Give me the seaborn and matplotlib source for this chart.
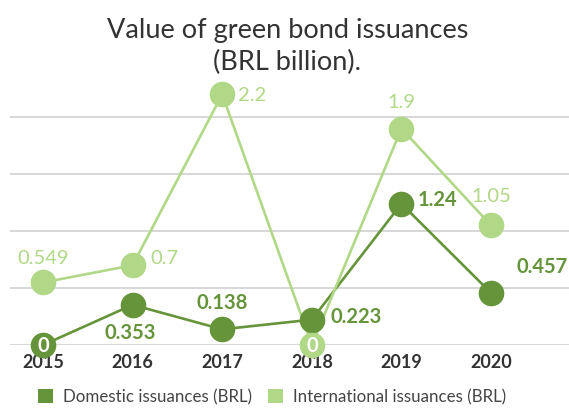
import matplotlib
matplotlib.use("Agg")
import matplotlib.pyplot as plt
import seaborn as sns
import pandas as pd
from matplotlib.patches import Patch

years = [2015, 2016, 2017, 2018, 2019, 2020]
domestic = [0, 0.353, 0.138, 0.223, 1.24, 0.457]
international = [0.549, 0.7, 2.2, 0, 1.9, 1.05]
dom_labels = ["0", "0.353", "0.138", "0.223", "1.24", "0.457"]
int_labels = ["0.549", "0.7", "2.2", "0", "1.9", "1.05"]
series_names = ["Domestic issuances (BRL)", "International issuances (BRL)"]
title = "Value of green bond issuances\n(BRL billion)."

DARK = "#66943a"
LIGHT = "#b0d886"

sns.set_style("white")
plt.rcParams['font.family'] = ['Lato', 'DejaVu Sans']

fig = plt.figure(figsize=(5.69, 4.10), dpi=100)
ax = fig.add_axes([0.0176, 0.156, 0.9824, 0.667])

df_dom = pd.DataFrame({"year": years, "value": domestic})
df_int = pd.DataFrame({"year": years, "value": international})

sns.lineplot(data=df_dom, x="year", y="value", color=DARK, linewidth=1.9, ax=ax, zorder=2)
sns.lineplot(data=df_int, x="year", y="value", color=LIGHT, linewidth=1.9, ax=ax, zorder=2)
sns.scatterplot(data=df_dom, x="year", y="value", color=DARK, s=340, linewidth=0, ax=ax, zorder=3)
sns.scatterplot(data=df_int, x="year", y="value", color=LIGHT, s=340, linewidth=0, ax=ax, zorder=4)
for c in ax.collections:
    c.set_clip_on(False)

ax.set_xlim(2014.632, 2020.87)
ax.set_ylim(0, 2.4)
ax.set_yticks([0, 0.5, 1.0, 1.5, 2.0])
ax.set_yticklabels([])
ax.yaxis.grid(True, color="#d4d4d4", linewidth=1.3)
ax.set_axisbelow(True)
ax.tick_params(axis="y", length=0)
ax.set_xticks(years)
ax.set_xticklabels([str(y) for y in years], fontsize=13, fontweight="bold", color="#333333")
ax.tick_params(axis="x", length=0, pad=6)
ax.set_xlabel("")
ax.set_ylabel("")
for s in ax.spines.values():
    s.set_visible(False)

px = 0.72  # pixels -> points at dpi 100

# offsets (dx px, dy px, ha, white-inside)
int_off = [(0, 25, "center", False), (18, 8, "left", False), (16, 0, "left", False),
           (0, 0, "center", True), (0, 27, "center", False), (0, 30, "center", False)]
dom_off = [(0, 0, "center", True), (-2, -27, "center", False), (0, 27, "center", False),
           (19, 4, "left", False), (16, 5, "left", False), (25, 27, "left", False)]

for x, y, lab, (dx, dy, ha, inside) in zip(years, international, int_labels, int_off):
    ax.annotate(lab, (x, y), xytext=(dx * px, dy * px), textcoords="offset points",
                ha=ha, va="center", fontsize=14.5, color="white" if inside else LIGHT,
                fontweight="bold" if inside else "normal", zorder=6, annotation_clip=False)
for x, y, lab, (dx, dy, ha, inside) in zip(years, domestic, dom_labels, dom_off):
    ax.annotate(lab, (x, y), xytext=(dx * px, dy * px), textcoords="offset points",
                ha=ha, va="center", fontsize=14.5, color="white" if inside else DARK,
                fontweight="bold", zorder=6, annotation_clip=False)

fig.text(0.505, 0.955, title, ha="center", va="top", fontsize=19.5, color="#333333",
         linespacing=1.3)

handles = [Patch(facecolor=DARK, edgecolor="none"), Patch(facecolor=LIGHT, edgecolor="none")]
fig.legend(handles, series_names, loc="center", bbox_to_anchor=(0.478, 0.03), ncol=2,
           frameon=False, fontsize=12.2, handlelength=0.9, handleheight=0.9,
           handletextpad=0.6, columnspacing=0.9, labelcolor="#444444")

fig.savefig("out.png", dpi=100)
